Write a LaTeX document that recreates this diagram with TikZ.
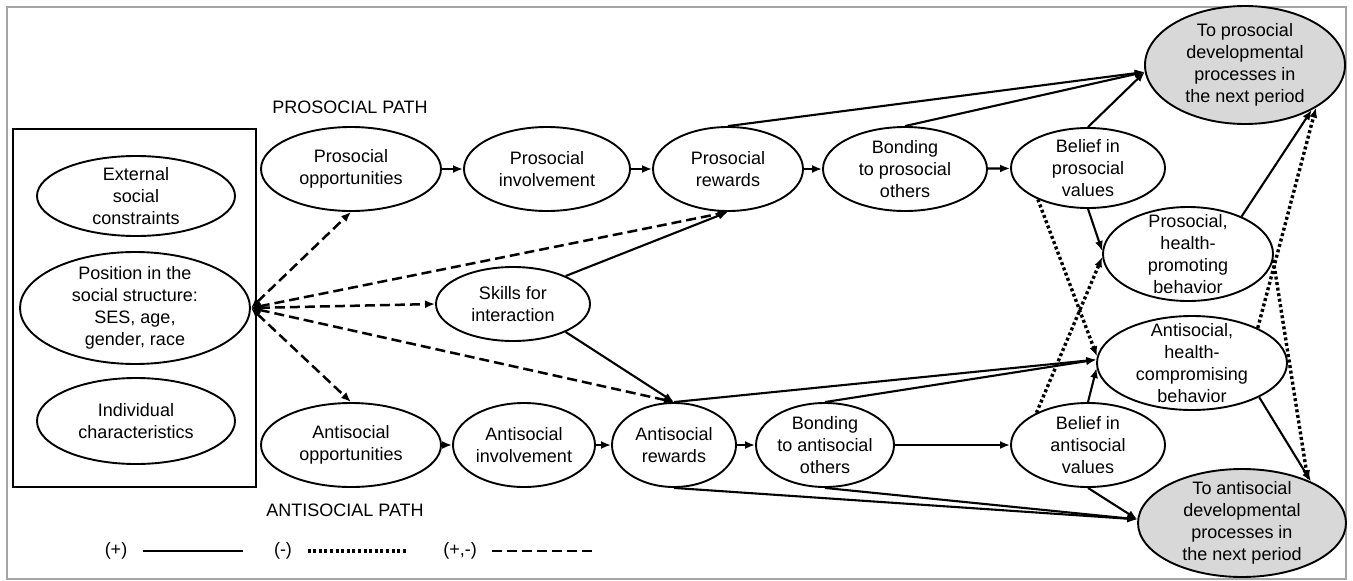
\documentclass[tikz,border=0pt]{standalone}
\usepackage{fontspec}
\setmainfont{Liberation Sans}
\usetikzlibrary{shapes.geometric,arrows.meta}

\definecolor{outcomegray}{RGB}{216,216,216}
\definecolor{framegray}{RGB}{165,165,165}

\begin{document}
\begin{tikzpicture}[x=1pt, y=-1pt,
    every node/.style={font=\fontsize{18}{22}\selectfont},
    oval/.style={ellipse, draw, line width=1.9pt, align=center, inner sep=-10pt},
    outcome/.style={oval, fill=outcomegray},
    plusline/.style={line width=2.1pt},
    minusline/.style={line width=3.4pt, dash pattern=on 3pt off 2.6pt},
    mixline/.style={line width=2.5pt, dash pattern=on 10pt off 5pt},
    arrowed/.style={-{Latex[length=10pt,width=8pt]}},
    plusarrow/.style={plusline, arrowed},
    minusarrow/.style={minusline, arrowed},
    mixarrow/.style={mixline, {Latex[length=10pt,width=8pt]}-{Latex[length=10pt,width=8pt]}}]

    \useasboundingbox (0,0) rectangle (1353,581);
    \draw[framegray, line width=1.4pt] (7,7) rectangle (1346,579);

    % --- CONTEXT ---
    \draw[line width=1.9pt] (13,129) rectangle (256,487);
    \node[oval, minimum width=198pt, minimum height=80pt] (ext) at (136,196) {External\\social\\constraints};
    \node[oval, minimum width=230pt, minimum height=112pt] (posn) at (135,308) {Position in the\\social structure:\\SES, age,\\gender, race};
    \node[oval, minimum width=198pt, minimum height=86pt] (indiv) at (136,421) {Individual\\characteristics};

    % --- PROSOCIAL PATH ---
    \node (protitle) at (350,107) {PROSOCIAL PATH};
    \node[oval, minimum width=180pt, minimum height=84pt] (popp) at (351,169) {Prosocial\\opportunities};
    \node[oval, minimum width=166pt, minimum height=84pt] (pinv) at (547,169) {Prosocial\\involvement};
    \node[oval, minimum width=150pt, minimum height=84pt] (prew) at (728,169) {Prosocial\\rewards};
    \node[oval, minimum width=164pt, minimum height=84pt] (pbond) at (905,169) {Bonding\\to prosocial\\others};
    \node[oval, minimum width=154pt, minimum height=80pt] (pbel) at (1088,168) {Belief in\\prosocial\\values};

    % --- SKILLS ---
    \node[oval, minimum width=154pt, minimum height=74pt] (skills) at (513,304) {Skills for\\interaction};

    % --- ANTISOCIAL PATH ---
    \node (antititle) at (345,510) {ANTISOCIAL PATH};
    \node[oval, minimum width=180pt, minimum height=84pt] (aopp) at (351,445) {Antisocial\\opportunities};
    \node[oval, minimum width=142pt, minimum height=84pt] (ainv) at (524,445) {Antisocial\\involvement};
    \node[oval, minimum width=124pt, minimum height=84pt] (arew) at (674,445) {Antisocial\\rewards};
    \node[oval, minimum width=138pt, minimum height=84pt] (abond) at (825,445) {Bonding\\to antisocial\\others};
    \node[oval, minimum width=154pt, minimum height=84pt] (abel) at (1088,445) {Belief in\\antisocial\\values};

    % --- BEHAVIOR AND OUTCOMES ---
    \node[oval, minimum width=170pt, minimum height=94pt] (phealth) at (1188,254) {Prosocial,\\health-\\promoting\\behavior};
    \node[oval, minimum width=190pt, minimum height=94pt] (ahealth) at (1192,363) {Antisocial,\\health-\\compromising\\behavior};
    \node[outcome, minimum width=200pt, minimum height=118pt] (topro) at (1245,65) {To prosocial\\developmental\\processes in\\the next period};
    \node[outcome, minimum width=208pt, minimum height=108pt] (toanti) at (1242,523) {To antisocial\\developmental\\processes in\\the next period};

    % chains
    \draw[plusarrow] (popp) -- (pinv);
    \draw[plusarrow] (pinv) -- (prew);
    \draw[plusarrow] (prew) -- (pbond);
    \draw[plusarrow] (pbond) -- (pbel);
    \draw[plusarrow] (aopp) -- (ainv);
    \draw[plusarrow] (ainv) -- (arew);
    \draw[plusarrow] (arew) -- (abond);
    \draw[plusarrow] (abond) -- (abel);

    % from the context
    \draw[mixarrow] (posn.east) -- (popp.south);
    \draw[mixarrow] (posn.east) -- (prew.south);
    \draw[mixarrow] (posn.east) -- (skills.west);
    \draw[mixarrow] (posn.east) -- (arew.north);
    \draw[mixarrow] (posn.east) -- (aopp.north);

    % skills
    \draw[plusarrow] (skills.28) -- (prew.south);
    \draw[plusarrow] (skills.-28) -- (arew.north);

    % prosocial side to outcomes
    \draw[plusarrow] (prew.north) -- (topro.184);
    \draw[plusarrow] (pbond.north) -- (topro.184);
    \draw[plusarrow] (pbel.north) -- (topro.184);
    \draw[plusarrow] (pbel.south) -- (phealth.178);
    \draw[plusarrow] (phealth.35) -- (topro.-34);
    \draw[minusarrow] (pbel.212) -- (ahealth.176);
    \draw[minusarrow] (phealth.-4) -- (toanti.33);

    % antisocial side to outcomes
    \draw[plusarrow] (arew.north) -- (ahealth.178);
    \draw[plusarrow] (abond.north) -- (ahealth.178);
    \draw[plusarrow] (abel.north) -- (ahealth.183);
    \draw[plusarrow] (arew.south) -- (toanti.178);
    \draw[plusarrow] (abond.south) -- (toanti.178);
    \draw[plusarrow] (abel.south) -- (toanti.178);
    \draw[plusarrow] (ahealth.-27) -- (toanti.31);
    \draw[minusarrow] (abel.148) -- (phealth.182);
    \draw[minusarrow] (ahealth.28) -- (topro.-31);

    % --- LEGEND ---
    \node (lplus) at (116,551) {(+)};
    \draw[plusline] ([xshift=12pt]lplus.east) -- ++(100,0);
    \node (lminus) at (283,551) {(-)};
    \draw[minusline] ([xshift=12pt]lminus.east) -- ++(100,0);
    \node (lmixed) at (460,551) {(+,-)};
    \draw[mixline] ([xshift=12pt]lmixed.east) -- ++(100,0);

\end{tikzpicture}
\end{document}
